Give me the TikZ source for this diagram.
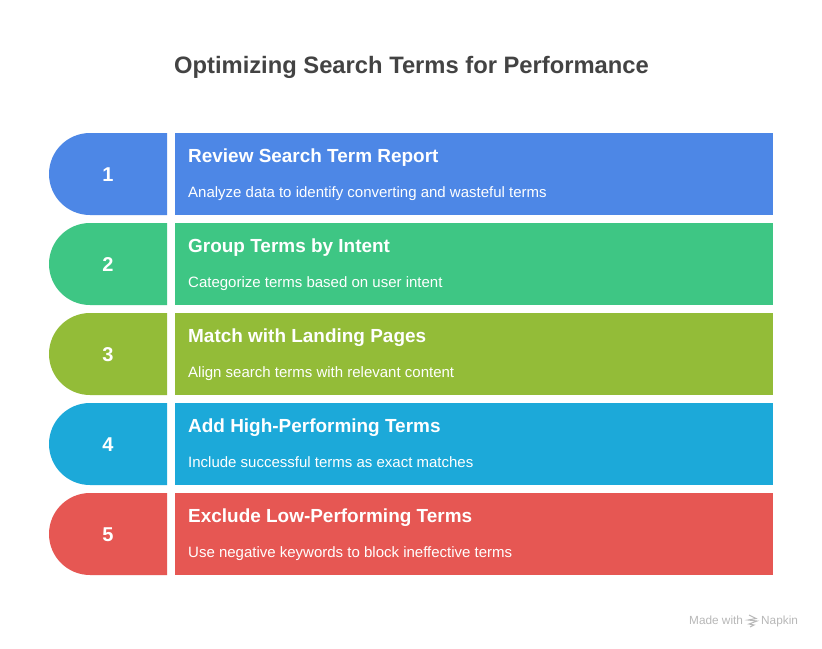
\documentclass[tikz,border=0pt]{standalone}
\usepackage{fontspec}
\setmainfont{Liberation Sans}
\definecolor{cA}{HTML}{4D87E6}
\definecolor{cB}{HTML}{3EC684}
\definecolor{cC}{HTML}{93BC38}
\definecolor{cD}{HTML}{1CA9D9}
\definecolor{cE}{HTML}{E65753}
\definecolor{ink}{HTML}{434343}
\definecolor{creditgray}{HTML}{B8B8B8}
\tikzset{
  headtext/.style={anchor=base west,inner sep=0pt,text=white,font=\fontsize{18.95}{22}\selectfont\bfseries},
  subtext/.style={anchor=base west,inner sep=0pt,text=white,font=\fontsize{15}{18}\selectfont},
  numtext/.style={anchor=base,inner sep=0pt,text=white,font=\fontsize{20}{22}\selectfont\bfseries},
  credit/.style={anchor=base west,inner sep=0pt,text=creditgray,font=\fontsize{11.8}{14}\selectfont},
}
\newcommand{\stepband}[6]{%
  \fill[#2] (167,#1) -- (90,#1) arc[start angle=270,end angle=90,radius=41] -- (167,#1+82) -- cycle;
  \fill[#2] (175,#1) rectangle (773,#1+82);
  \node[numtext] (num#6) at (108,#1+48) {#3};
  \node[headtext] (head#6) at (188,#1+29.5) {#4};
  \node[subtext] (sub#6) at (188,#1+64) {#5};
}
\begin{document}
\begin{tikzpicture}[x=1pt,y=-1pt]
\useasboundingbox (0,0) rectangle (822,648);
\fill[white] (0,0) rectangle (822,648);
\node[anchor=base,inner sep=0pt,text=ink,font=\fontsize{23.75}{30}\selectfont\bfseries] (title) at (411.5,73.5) {Optimizing Search Terms for Performance};
\stepband{133}{cA}{1}{Review Search Term Report}{Analyze data to identify converting and wasteful terms}{a}
\stepband{223}{cB}{2}{Group Terms by Intent}{Categorize terms based on user intent}{b}
\stepband{313}{cC}{3}{Match with Landing Pages}{Align search terms with relevant content}{c}
\stepband{403}{cD}{4}{Add High-Performing Terms}{Include successful terms as exact matches}{d}
\stepband{493}{cE}{5}{Exclude Low-Performing Terms}{Use negative keywords to block ineffective terms}{e}
\node[credit] (made) at (689,624) {Made with};
\node[credit] (napkin) at (761,624) {Napkin};
\draw[creditgray,line width=1pt] (749,615) -- (756,618.5) -- (748,620) -- (757,621) -- (749,624) -- (754,625) -- (750,627);
\end{tikzpicture}
\end{document}
